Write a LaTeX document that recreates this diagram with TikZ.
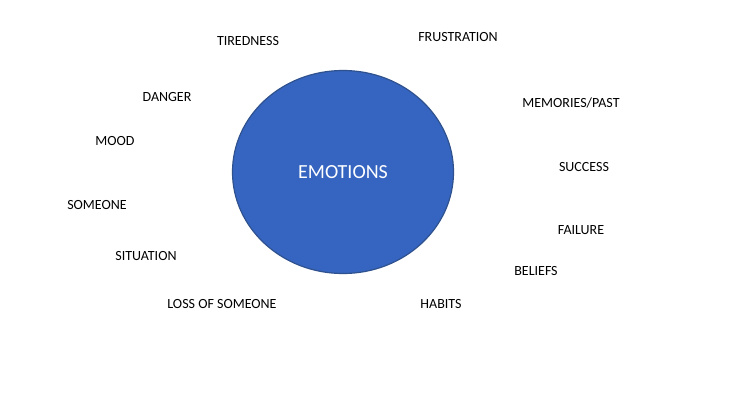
\documentclass[tikz,border=0pt]{standalone}
\usepackage{fontspec}
\setmainfont{Carlito}
\usetikzlibrary{shapes.geometric}
\definecolor{fillb}{HTML}{3565C0}
\definecolor{edgeb}{HTML}{2F528F}
\begin{document}
\begin{tikzpicture}[x=1pt,y=-1pt,
  lbl/.style={font=\fontsize{14}{16}\selectfont, text=black, inner sep=0pt}]
\useasboundingbox (0,0) rectangle (744,404);
\fill[white] (0,0) rectangle (744,404);
\node[ellipse, minimum width=221pt, minimum height=203pt, fill=fillb, draw=edgeb, line width=1.2pt, text=white, font=\fontsize{20}{24}\selectfont, inner sep=0pt] (emo) at (343,172) {EMOTIONS};
\node[lbl] (t1) at (248,41) {TIREDNESS};
\node[lbl] (t2) at (458,37) {FRUSTRATION};
\node[lbl] (t3) at (167,97) {DANGER};
\node[lbl] (t4) at (571,103) {MEMORIES/PAST};
\node[lbl] (t5) at (115,141) {MOOD};
\node[lbl] (t6) at (584,167) {SUCCESS};
\node[lbl] (t7) at (97,205) {SOMEONE};
\node[lbl] (t8) at (581,230) {FAILURE};
\node[lbl] (t9) at (146,256) {SITUATION};
\node[lbl] (t10) at (536,271) {BELIEFS};
\node[lbl] (t11) at (222,304) {LOSS OF SOMEONE};
\node[lbl] (t12) at (441,304) {HABITS};
\end{tikzpicture}
\end{document}
